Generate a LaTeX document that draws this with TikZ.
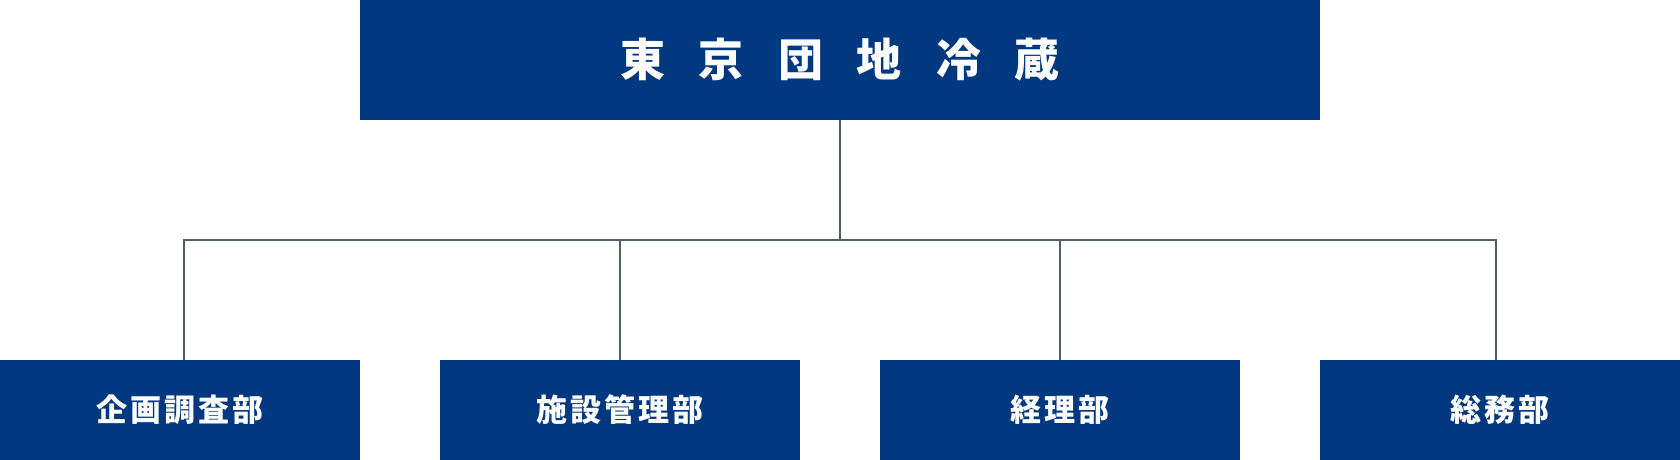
\documentclass[tikz,border=0pt]{standalone}
\usepackage{fontspec}
\newfontfamily\jpfont{Noto Sans CJK JP}
\usepackage{tikz}
\usetikzlibrary{positioning}
\definecolor{navy}{RGB}{2,56,128}
\definecolor{linegray}{RGB}{84,94,106}

\begin{document}
\begin{tikzpicture}
[x=1pt,y=-1pt]
\tikzset{
	head/.style = {fill = navy, text = white, inner sep = 0, minimum width = 960pt, minimum height = 120pt, font = \jpfont\bfseries\fontsize{45}{45}\selectfont},
	dept/.style = {fill = navy, text = white, inner sep = 0, minimum width = 360pt, minimum height = 100pt, font = \jpfont\bfseries\fontsize{31}{31}\selectfont},
	link/.style = {draw = linegray, line width = 2pt}
}
\useasboundingbox (0,0) rectangle (1680,460);

\node(top) [head] at (840,60) {\raisebox{-3pt}{東\hspace{34pt}京\hspace{34pt}団\hspace{34pt}地\hspace{34pt}冷\hspace{34pt}蔵}};

\node(d1) [dept] at (180,410) {企\hspace{3pt}画\hspace{3pt}調\hspace{3pt}査\hspace{3pt}部};
\node(d2) [dept] at (620,410) {施\hspace{3pt}設\hspace{3pt}管\hspace{3pt}理\hspace{3pt}部};
\node(d3) [dept] at (1060,410) {経\hspace{3pt}理\hspace{3pt}部};
\node(d4) [dept] at (1500,410) {総\hspace{3pt}務\hspace{3pt}部};

\coordinate(bus) at (840,240);
\coordinate(j1) at (184,240);
\coordinate(j4) at (1496,240);

\draw [link] (top.south) -- (bus);
\draw [link, line cap = rect] (j1) -- (j4);
\draw [link] (j1) -- (j1 |- d1.north);
\draw [link] (bus -| d2.north) -- (d2.north);
\draw [link] (bus -| d3.north) -- (d3.north);
\draw [link] (j4) -- (j4 |- d4.north);

\end{tikzpicture}
\end{document}
